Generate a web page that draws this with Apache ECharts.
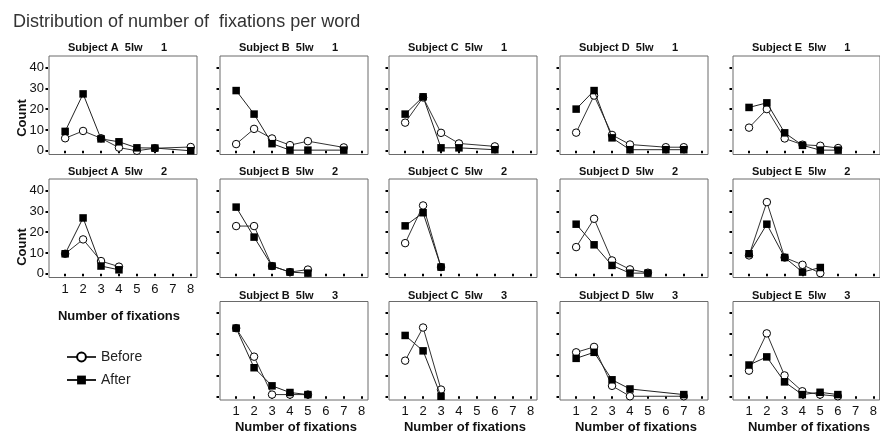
<!DOCTYPE html>
<html><head><meta charset="utf-8">
<script src="https://cdn.jsdelivr.net/npm/echarts@6/dist/echarts.min.js"></script>
<style>html,body{margin:0;padding:0;background:#fff}#c{width:880px;height:433px}</style>
</head><body><div id="c"></div>
<script>
// Tick values
const xTicks = [1, 2, 3, 4, 5, 6, 7, 8];
const yTicks = [0, 10, 20, 30, 40];
// Counts for number of fixations 1..8 (null = no point)
const A1_before = [6, 9.5, 6, 1.5, 0, 1.2, null, 1.8];
const A1_after  = [9.3, 27.3, 5.7, 4.3, 1.4, 1.3, null, 0];
const B1_before = [3.2, 10.5, 5.9, 2.7, 4.6, null, 1.6, null];
const B1_after  = [28.9, 17.6, 3.4, 0.3, 0.3, null, 0.3, null];
const C1_before = [13.5, 25.6, 8.6, 3.5, null, 2.1, null, null];
const C1_after  = [17.6, 25.9, 1.4, 1.4, null, 0.5, null, null];
const D1_before = [8.7, 26.5, 7.6, 3.0, null, 1.7, 1.7, null];
const D1_after  = [20, 28.9, 6.2, 0.5, null, 0.5, 0.5, null];
const E1_before = [11.1, 20, 5.9, 2.9, 2.4, 1.3, null, null];
const E1_after  = [20.8, 23, 8.6, 2.6, 0.3, 0.3, null, null];
const A2_before = [9.6, 16.5, 6.1, 3.4];
const A2_after  = [9.6, 26.8, 3.7, 1.9];
const B2_before = [22.9, 22.9, 3.7, 0.8, 2.0];
const B2_after  = [32, 17.6, 3.7, 0.8, 0.3];
const C2_before = [14.7, 32.8, 3.2];
const C2_after  = [23, 29.3, 3.2];
const D2_before = [12.8, 26.4, 6.4, 2.1, 0.5];
const D2_after  = [23.8, 13.9, 4.0, 0.3, 0.3];
const E2_before = [8.8, 34.4, 7.8, 4.3, 0.3];
const E2_after  = [9.6, 23.8, 7.8, 0.8, 3.0];
const B3_before = [32.7, 19, 0.8, 0.8, 0.8];
const B3_after  = [32.7, 13.7, 5.0, 1.8, 0.8];
const C3_before = [17.1, 33, 3.2];
const C3_after  = [29.2, 21.8, 0];
const D3_before = [21.1, 23.7, 5.0, 0, null, null, 0];
const D3_after  = [18.2, 21.1, 7.9, 3.5, null, null, 0.8];
const E3_before = [12.3, 30.2, 10, 2.4, 0.8, 0];
const E3_after  = [15, 18.9, 6.9, 0.8, 1.9, 0.8];

const panels = [
  {subj:'A', set:1, col:0, row:0, before:A1_before, after:A1_after},
  {subj:'B', set:1, col:1, row:0, before:B1_before, after:B1_after},
  {subj:'C', set:1, col:2, row:0, before:C1_before, after:C1_after},
  {subj:'D', set:1, col:3, row:0, before:D1_before, after:D1_after},
  {subj:'E', set:1, col:4, row:0, before:E1_before, after:E1_after},
  {subj:'A', set:2, col:0, row:1, before:A2_before, after:A2_after},
  {subj:'B', set:2, col:1, row:1, before:B2_before, after:B2_after},
  {subj:'C', set:2, col:2, row:1, before:C2_before, after:C2_after},
  {subj:'D', set:2, col:3, row:1, before:D2_before, after:D2_after},
  {subj:'E', set:2, col:4, row:1, before:E2_before, after:E2_after},
  {subj:'B', set:3, col:1, row:2, before:B3_before, after:B3_after},
  {subj:'C', set:3, col:2, row:2, before:C3_before, after:C3_after},
  {subj:'D', set:3, col:3, row:2, before:D3_before, after:D3_after},
  {subj:'E', set:3, col:4, row:2, before:E3_before, after:E3_after}
];

const FONT = '"Liberation Sans", Arial, Helvetica, sans-serif';
const colLeft = [49, 220, 389, 560, 733], W = 148;
const rowTop = [56, 179, 301.5], H = 98.5;
const titleY = [48, 172, 295.5];

function toPairs(arr) {
  const out = [];
  arr.forEach((v, i) => { if (v !== null && v !== undefined) out.push([xTicks[i], v]); });
  return out;
}

const grids = [], xAxes = [], yAxes = [], series = [], graphics = [];
panels.forEach((p, i) => {
  const left = colLeft[p.col], top = rowTop[p.row];
  grids.push({left: left, top: top, width: W, height: H, show: true,
    borderColor: '#6a6a6a', borderWidth: 1, backgroundColor: 'transparent'});
  const showX = p.row === 2 || (p.col === 0 && p.row === 1);
  const showY = p.col === 0;
  xAxes.push({type: 'value', gridIndex: i, min: 0.1, max: 8.35, offset: 1,
    axisLine: {show: false}, splitLine: {show: false},
    axisTick: {show: true, length: 2.5, customValues: xTicks, lineStyle: {color: '#000', width: 2}},
    axisLabel: {show: showX, customValues: xTicks, margin: 4, fontSize: 13, color: '#111', fontFamily: FONT}});
  yAxes.push({type: 'value', gridIndex: i, min: -1.8, max: 45.5, offset: 1,
    axisLine: {show: false}, splitLine: {show: false},
    axisTick: {show: true, length: 2.5, customValues: yTicks, lineStyle: {color: '#000', width: 2}},
    axisLabel: {show: showY, customValues: yTicks, margin: 4, fontSize: 13, color: '#111', fontFamily: FONT}});
  series.push({name: 'Before', type: 'line', xAxisIndex: i, yAxisIndex: i, data: toPairs(p.before),
    symbol: 'circle', symbolSize: 7.5, z: 2,
    itemStyle: {color: '#fff', borderColor: '#000', borderWidth: 1},
    lineStyle: {color: '#333', width: 1}, animation: false});
  series.push({name: 'After', type: 'line', xAxisIndex: i, yAxisIndex: i, data: toPairs(p.after),
    symbol: 'rect', symbolSize: 7.5, z: 3,
    itemStyle: {color: '#000'},
    lineStyle: {color: '#222', width: 1}, animation: false});
  graphics.push({type: 'text', x: left + 19, y: titleY[p.row],
    style: {text: 'Subject ' + p.subj + '  5lw      ' + p.set, font: 'bold 11px ' + FONT,
      fill: '#111', verticalAlign: 'middle', align: 'left'}});
});

// Axis titles
graphics.push({type: 'text', x: 22, y: 118, rotation: Math.PI / 2,
  style: {text: 'Count', font: 'bold 13px ' + FONT, fill: '#111', align: 'center', verticalAlign: 'middle'}});
graphics.push({type: 'text', x: 22, y: 247, rotation: Math.PI / 2,
  style: {text: 'Count', font: 'bold 13px ' + FONT, fill: '#111', align: 'center', verticalAlign: 'middle'}});
graphics.push({type: 'text', x: 119, y: 316,
  style: {text: 'Number of fixations', font: 'bold 13px ' + FONT, fill: '#111', align: 'center', verticalAlign: 'middle'}});
[1, 2, 3, 4].forEach(c => {
  graphics.push({type: 'text', x: colLeft[c] + W / 2 + 2, y: 427,
    style: {text: 'Number of fixations', font: 'bold 13px ' + FONT, fill: '#111', align: 'center', verticalAlign: 'middle'}});
});

const chart = echarts.init(document.getElementById('c'), null, {renderer: 'canvas'});
chart.setOption({
  animation: false,
  backgroundColor: '#fff',
  title: {text: 'Distribution of number of  fixations per word', left: 8, top: 8,
    textStyle: {fontSize: 18, fontWeight: 'normal', color: '#333', fontFamily: FONT}},
  legend: {orient: 'vertical', left: 61, top: 345, itemWidth: 29, itemHeight: 11, itemGap: 9,
    data: ['Before', 'After'], selectedMode: false,
    textStyle: {fontSize: 14, color: '#222', fontFamily: FONT}},
  grid: grids, xAxis: xAxes, yAxis: yAxes, series: series, graphic: graphics
});
</script>
</body></html>
